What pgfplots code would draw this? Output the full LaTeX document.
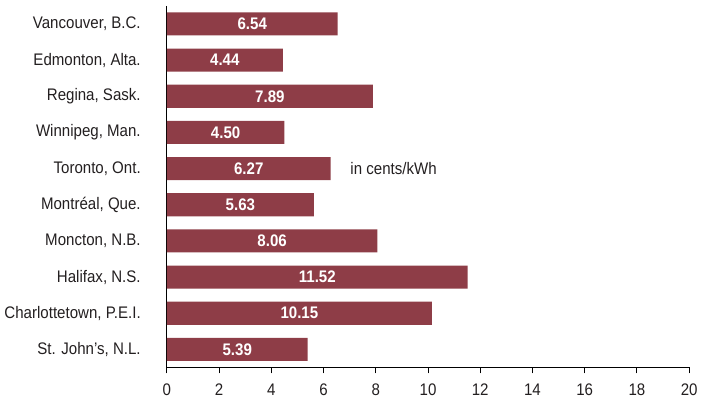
\documentclass[border=0pt]{standalone}
\usepackage{fontspec}
\setmainfont{Liberation Sans}[FakeStretch=0.9]
\usepackage{pgfplots}
\pgfplotsset{compat=1.18}
\definecolor{barred}{RGB}{142,61,71}
\definecolor{txt}{RGB}{35,31,32}

\begin{document}
\begin{tikzpicture}
\begin{axis}[
  width=390pt, height=270pt, scale only axis,
  xmin=0, xmax=20, ymin=-0.5, ymax=9.5, y dir=reverse,
  axis x line*=bottom, axis y line*=left,
  axis line style={-, line width=0.75pt, black},
  xtick={0,2,...,20},
  ytick={0,...,9},
  yticklabels={Vancouver{,} B.C., Edmonton{,} Alta., Regina{,} Sask., Winnipeg{,} Man., Toronto{,} Ont., Montréal{,} Que., Moncton{,} N.B., Halifax{,} N.S., Charlottetown{,} P.E.I., St. John’s{,} N.L.},
  tick align=outside,
  major tick length=4.5pt,
  x tick style={line width=0.75pt, black},
  y tick style={draw=none},
  yticklabel style={xshift=-11.5pt},
  xticklabel style={yshift=-4pt},
  tick label style={font=\fontsize{12.5}{14}\selectfont, text=txt},
  /pgf/number format/assume math mode=true,
  xbar, bar width=17.25pt,
  nodes near coords={\pgfmathprintnumber[fixed,fixed zerofill,precision=2]{\pgfplotspointmeta}},
  visualization depends on={rawx/2 \as \halfx},
  every node near coord/.append style={anchor=center, text=white,
    font=\fontsize{12.5}{14}\selectfont\bfseries,
    shift={(axis direction cs:-\halfx,0)}},
  clip=false,
]
\addplot[fill=barred, draw=none] coordinates {
  (6.54,0) (4.44,1) (7.89,2) (4.50,3) (6.27,4)
  (5.63,5) (8.06,6) (11.52,7) (10.15,8) (5.39,9)
};
\node[anchor=west, text=txt, font=\fontsize{12.5}{14}\selectfont] at (axis cs:6.85,4) {in cents/kWh};
\end{axis}
\path ([yshift=-6pt]current bounding box.south) -- ([yshift=4pt]current bounding box.north);
\end{tikzpicture}
\end{document}
